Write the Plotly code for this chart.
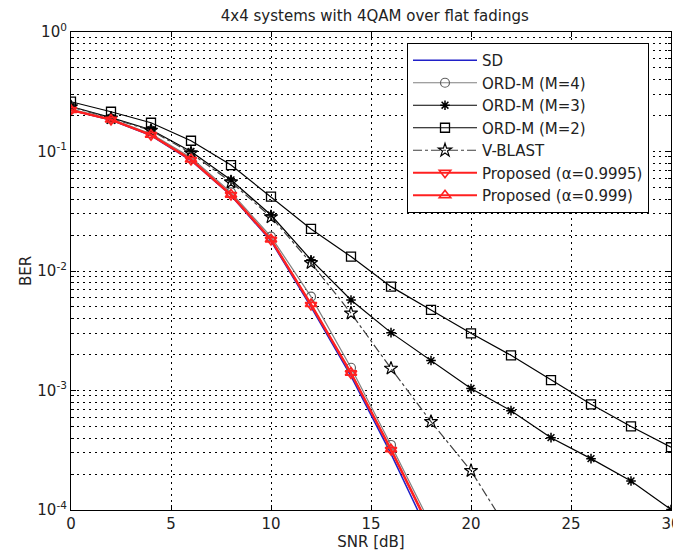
import plotly.graph_objects as go

snr = [0, 2, 4, 6, 8, 10, 12, 14, 16, 18, 20, 22, 24, 26, 28, 30]

snr_sd = [0, 2, 4, 6, 8, 10, 12, 14, 16, 18]
ber_sd = [0.221, 0.183, 0.136, 0.084, 0.0428, 0.0178, 0.0050, 0.00132, 0.000295, 0.000058]

snr_m4 = [0, 2, 4, 6, 8, 10, 12, 14, 16, 18]
ber_m4 = [0.226, 0.187, 0.141, 0.089, 0.0455, 0.0194, 0.0061, 0.00155, 0.00035, 0.000075]

ber_m3 = [0.238, 0.192, 0.152, 0.100, 0.0578, 0.0294, 0.0124, 0.00572, 0.00305,
          0.00178, 0.00104, 0.000678, 0.000403, 0.000269, 0.000175, 0.000101]

ber_m2 = [0.261, 0.215, 0.174, 0.123, 0.077, 0.0419, 0.0225, 0.0132, 0.0074,
          0.00472, 0.00301, 0.00197, 0.00122, 0.000766, 0.000500, 0.000335]

snr_vb = [0, 2, 4, 6, 8, 10, 12, 14, 16, 18, 20, 22]
ber_vb = [0.236, 0.190, 0.150, 0.097, 0.0555, 0.0283, 0.0117, 0.00443, 0.00153,
          0.000548, 0.000213, 0.000062]

snr_p1 = [0, 2, 4, 6, 8, 10, 12, 14, 16, 18]
ber_p1 = [0.222, 0.184, 0.137, 0.085, 0.0432, 0.0182, 0.0052, 0.00139, 0.000318, 0.000066]
ber_p2 = [0.223, 0.185, 0.138, 0.086, 0.0436, 0.0184, 0.0053, 0.00141, 0.000322, 0.000068]

x_ticks = [0, 5, 10, 15, 20, 25, 30]
y_ticks = [1e-4, 1e-3, 1e-2, 1e-1, 1]
y_tick_text = ["10<sup>-4</sup>", "10<sup>-3</sup>", "10<sup>-2</sup>", "10<sup>-1</sup>", "10<sup>0</sup>"]
y_minor = [m * 10.0 ** e for e in range(-4, 0) for m in range(2, 10)]

fig = go.Figure()

fig.add_trace(go.Scatter(x=snr_sd, y=ber_sd, name="SD", mode="lines",
                         line=dict(color="#2020c8", width=1.5)))
fig.add_trace(go.Scatter(x=snr_m4, y=ber_m4, name="ORD-M (M=4)", mode="lines+markers",
                         line=dict(color="#808080", width=1.2),
                         marker=dict(symbol="circle-open", size=9, color="#606060",
                                     line=dict(width=1.2))))
fig.add_trace(go.Scatter(x=snr, y=ber_m3, name="ORD-M (M=3)", mode="lines+markers",
                         line=dict(color="black", width=1.2),
                         marker=dict(symbol="asterisk-open", size=8, color="black",
                                     line=dict(width=1.5, color="black"))))
fig.add_trace(go.Scatter(x=snr, y=ber_m2, name="ORD-M (M=2)", mode="lines+markers",
                         line=dict(color="black", width=1.2),
                         marker=dict(symbol="square-open", size=9, color="black",
                                     line=dict(width=1.3))))
fig.add_trace(go.Scatter(x=snr_vb, y=ber_vb, name="V-BLAST", mode="lines+markers",
                         line=dict(color="#404040", width=1.2, dash="dashdot"),
                         marker=dict(symbol="star-open", size=10, color="black",
                                     line=dict(width=1.2))))
fig.add_trace(go.Scatter(x=snr_p1, y=ber_p1, name="Proposed (\u03b1=0.9995)", mode="lines+markers",
                         line=dict(color="#ff2020", width=2),
                         marker=dict(symbol="triangle-down-open", size=10, color="#ff2020",
                                     line=dict(width=1.6))))
fig.add_trace(go.Scatter(x=snr_p1, y=ber_p2, name="Proposed (\u03b1=0.999)", mode="lines+markers",
                         line=dict(color="#ff2020", width=2),
                         marker=dict(symbol="triangle-up-open", size=10, color="#ff2020",
                                     line=dict(width=1.6))))

grid_dash = "2px,4px"

fig.update_layout(
    width=673, height=550,
    margin=dict(l=63, r=10, t=24, b=48),
    paper_bgcolor="white", plot_bgcolor="white",
    font=dict(family="DejaVu Sans, sans-serif", size=14, color="#222"),
    title=dict(text="4x4 systems with 4QAM over flat fadings", x=0.545, xanchor="center",
               y=0.996, yanchor="top", font=dict(size=15)),
    showlegend=True,
    legend=dict(x=0.56, y=0.977, xanchor="left", yanchor="top",
                bgcolor="white", bordercolor="black", borderwidth=1,
                font=dict(size=15), itemwidth=64, tracegroupgap=0),
    xaxis=dict(range=[0, 30], tickvals=x_ticks, ticks="inside", ticklen=5,
               tickcolor="black", mirror="ticks", showline=True, linecolor="black",
               linewidth=1.2, showgrid=True, gridcolor="black", gridwidth=1,
               griddash=grid_dash, zeroline=False, automargin=False,
               title=dict(text="SNR [dB]", standoff=4, font=dict(size=15)),
               tickfont=dict(size=15)),
    yaxis=dict(type="log", range=[-4, 0], tickvals=y_ticks, ticktext=y_tick_text,
               ticks="inside", ticklen=5, tickcolor="black", mirror="ticks",
               showline=True, linecolor="black", linewidth=1.2,
               showgrid=True, gridcolor="black", gridwidth=1, griddash=grid_dash,
               zeroline=False, automargin=False,
               minor=dict(tickvals=y_minor, ticks="inside", ticklen=3, tickcolor="black",
                          showgrid=True, gridcolor="black", gridwidth=1, griddash=grid_dash),
               title=dict(text="BER", standoff=2, font=dict(size=15)),
               tickfont=dict(size=15)),
)

fig.write_html("out.html")
